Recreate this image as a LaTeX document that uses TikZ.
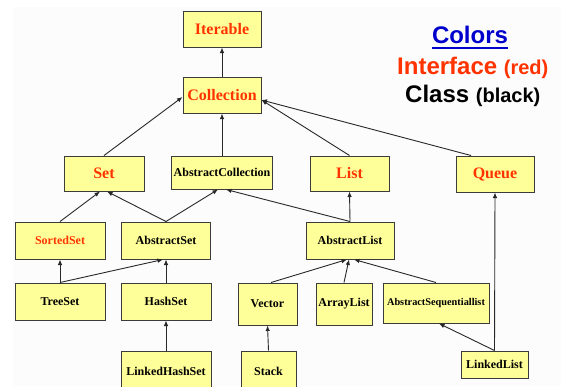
\documentclass[tikz,border=0pt]{standalone}
\usepackage{fontspec}
\setmainfont{Liberation Serif}
\newfontfamily\legendfont{Liberation Sans}
\usetikzlibrary{arrows.meta}
\definecolor{boxfill}{RGB}{255,255,153}
\definecolor{ifred}{RGB}{255,51,0}
\definecolor{lineclr}{RGB}{40,40,40}
\definecolor{borderclr}{RGB}{60,60,60}
\definecolor{legblue}{RGB}{0,0,204}
\definecolor{bgclr}{RGB}{252,252,252}
\begin{document}
\begin{tikzpicture}[x=1pt,y=-1pt,
  box/.style={draw=borderclr, line width=1pt, fill=boxfill, inner sep=0pt, align=center},
  iface/.style={box, text=ifred},
  cls/.style={box, text=black},
  big/.style={font=\rmfamily\bfseries\fontsize{16}{18}\selectfont},
  small/.style={font=\rmfamily\bfseries\fontsize{12}{14}\selectfont},
  tinyf/.style={font=\rmfamily\bfseries\fontsize{10.3}{12}\selectfont},
  conn/.style={draw=lineclr, line width=0.9pt, -{Latex[length=5.5pt,width=4.5pt]}},
  legend/.style={inner sep=0pt, font=\legendfont\bfseries\fontsize{24}{28}\selectfont},
]
\useasboundingbox (0,0) rectangle (561,386);
\clip (0,0) rectangle (561,386);
\fill[white] (0,0) rectangle (561,386);
\fill[bgclr] (13,7) rectangle (561,386);

% row 0-1
\node[iface,big,minimum width=78,minimum height=36] (iterable) at (222,29) {Iterable};
\node[iface,big,minimum width=78,minimum height=36] (collection) at (222,95) {Collection};
% row 2
\node[iface,big,minimum width=80,minimum height=35] (set) at (104,173.5) {Set};
\node[cls,small,minimum width=101,minimum height=33] (abscoll) at (222,172.5) {AbstractCollection};
\node[iface,big,minimum width=79,minimum height=35] (list) at (349.5,173.5) {List};
\node[iface,big,minimum width=78,minimum height=36] (queue) at (495,174) {Queue};
% row 3
\node[iface,small,minimum width=90,minimum height=37] (sortedset) at (60,240.5) {SortedSet};
\node[cls,small,minimum width=89,minimum height=37] (absset) at (166,240.5) {AbstractSet};
\node[cls,small,minimum width=88,minimum height=37] (abslist) at (350,240.5) {AbstractList};
% row 4
\node[cls,small,minimum width=90,minimum height=37] (treeset) at (60,301.5) {TreeSet};
\node[cls,small,minimum width=90,minimum height=37] (hashset) at (166,301.5) {HashSet};
\node[cls,small,minimum width=59,minimum height=42] (vector) at (267.5,304) {Vector};
\node[cls,small,minimum width=56,minimum height=42] (arraylist) at (344,304) {ArrayList};
\node[cls,tinyf,minimum width=106,minimum height=40] (absseq) at (436,303) {AbstractSequentiallist};
% row 5
\node[cls,small,minimum width=90,minimum height=40] (linkedhashset) at (166,371) {LinkedHashSet};
\node[cls,small,minimum width=55,minimum height=40] (stack) at (268.5,371) {Stack};
\node[cls,small,minimum width=67,minimum height=27] (linkedlist) at (494.5,364.5) {LinkedList};

% connectors
\draw[conn] (collection.north) -- (iterable.south);
\draw[conn] (set.north) -- ([yshift=-2pt]collection.west);
\draw[conn] (abscoll.north) -- (collection.south);
\draw[conn] (list.north) -- ([yshift=-5pt]collection.east);
\draw[conn] ([xshift=-24pt]queue.north) -- ([yshift=-5pt]collection.east);
\draw[conn] (sortedset.north) -- ([xshift=-4pt]set.south);
\draw[conn] (absset.north) -- ([xshift=3pt]set.south);
\draw[conn] (absset.north) -- ([xshift=-4pt]abscoll.south);
\draw[conn] (abslist.north) -- ([xshift=4pt]abscoll.south);
\draw[conn] (abslist.north) -- (list.south);
\draw[conn] (treeset.north) -- (sortedset.south);
\draw[conn] (treeset.north) -- ([xshift=-3pt]absset.south);
\draw[conn] (hashset.north) -- (absset.south);
\draw[conn] (linkedhashset.north) -- (hashset.south);
\draw[conn] ([xshift=3.5pt]vector.north) -- ([xshift=-3pt]abslist.south);
\draw[conn] (arraylist.north) -- ([xshift=-1pt]abslist.south);
\draw[conn] (absseq.north) -- ([xshift=4pt]abslist.south);
\draw[conn] (stack.north) -- (vector.south);
\draw[conn] (linkedlist.north) -- (queue.south);
\draw[conn] (linkedlist.north) -- ([xshift=3pt]absseq.south);

% legend
\node[legend, anchor=base, text=legblue] (colors) at (470,43) {Colors};
\draw[legblue, line width=2pt] ([yshift=-5pt]colors.base west) -- ([yshift=-5pt]colors.base east);
\node[legend, anchor=base west, text=ifred] (ifleg) at (397,74) {Interface {\fontsize{20}{24}\selectfont(red)}};
\node[legend, anchor=base west, text=black] (clsleg) at (405,102) {Class {\fontsize{20}{24}\selectfont(black)}};
\end{tikzpicture}
\end{document}
